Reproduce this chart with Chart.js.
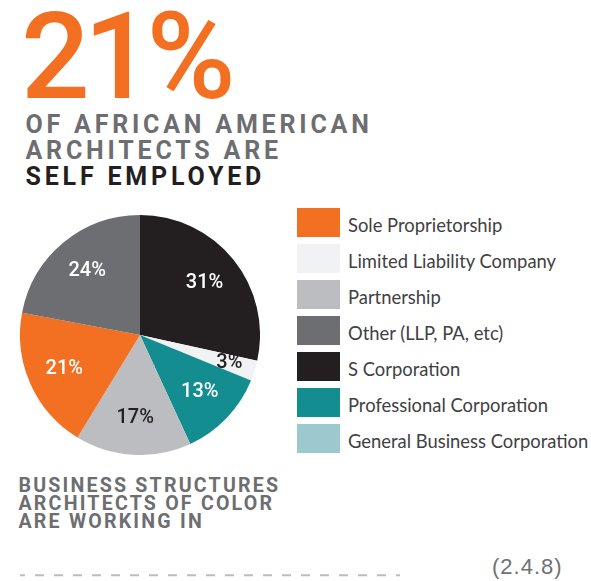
<!DOCTYPE html>
<html>
<head>
<meta charset="utf-8">
<script src="https://cdn.jsdelivr.net/npm/chart.js@4.4.1/dist/chart.umd.min.js"></script>
<style>
body { margin: 0; width: 591px; height: 581px; background: #fff; position: relative; overflow: hidden; }
#big { position: absolute; left: 21px; top: 6.6px; font: 500 121px/100px Roboto, sans-serif; letter-spacing: -6px; color: #F36F21; }
#sub { position: absolute; left: 25.5px; top: 111.8px; font: 700 25px/26px Roboto, sans-serif; letter-spacing: 3.8px; color: #6D6E71; }
#sub .dark { color: #231F20; }
#pieBox { position: absolute; left: 20px; top: 215px; width: 240px; height: 240px; }
#legend { position: absolute; left: 297px; top: 207.5px; margin: 0; padding: 0; list-style: none; }
#legend li { height: 29px; margin-bottom: 7px; display: flex; align-items: flex-start; }
#legend .box { width: 43px; height: 29px; flex: none; }
#legend .txt { margin-left: 8px; font: 400 18.4px/29px Lato, sans-serif; color: #414042; position: relative; top: 3px; white-space: nowrap; }
#caption { position: absolute; left: 18.5px; top: 477px; font: 700 19.6px/18px Roboto, sans-serif; letter-spacing: 2.2px; color: #6D6E71; }
#dash { position: absolute; left: 0; top: 570px; }
#ref { position: absolute; left: 492px; top: 556px; font: 400 22px/22px "Liberation Sans", Arial, sans-serif; letter-spacing: 1px; color: #707174; }
</style>
</head>
<body>
<div id="big">21%</div>
<div id="sub">
  <div>OF AFRICAN AMERICAN</div>
  <div>ARCHITECTS ARE</div>
  <div class="dark">SELF EMPLOYED</div>
</div>
<div id="pieBox"><canvas id="pie" width="240" height="240"></canvas></div>
<ul id="legend"></ul>
<div id="caption">BUSINESS STRUCTURES<br>ARCHITECTS OF COLOR<br>ARE WORKING IN</div>
<svg id="dash" width="420" height="12"><line x1="20" y1="5.3" x2="400" y2="5.3" stroke="#BCBDC0" stroke-width="2" stroke-dasharray="9 10" stroke-dashoffset="4"/></svg>
<div id="ref">(2.4.8)</div>
<script>
// slices in drawing order, clockwise from 12 o'clock
const categories = ["S Corporation", "Limited Liability Company", "Professional Corporation", "Partnership", "Sole Proprietorship", "Other (LLP, PA, etc)", "General Business Corporation"];
const shares = [31, 3, 13, 17, 21, 24, 0];
const sliceColors = ["#231F20", "#F1F2F3", "#138D8F", "#BCBDC0", "#F36F21", "#6D6E71", "#9CC9CE"];
const labelColors = ["#fff", "#231F20", "#fff", "#231F20", "#fff", "#fff", "#fff"];
// legend is listed in a different order than the slices
const legendOrder = ["Sole Proprietorship", "Limited Liability Company", "Partnership", "Other (LLP, PA, etc)", "S Corporation", "Professional Corporation", "General Business Corporation"];

const sliceLabels = {
    id: "sliceLabels",
    afterDatasetsDraw(chart) {
        const ctx = chart.ctx;
        const meta = chart.getDatasetMeta(0);
        ctx.save();
        ctx.font = "500 20px Roboto, sans-serif";
        ctx.textAlign = "center";
        ctx.textBaseline = "middle";
        meta.data.forEach((arc, i) => {
            if (!shares[i]) return;
            const p = arc.getProps(["x", "y", "startAngle", "endAngle", "outerRadius"], true);
            const mid = (p.startAngle + p.endAngle) / 2;
            const r = p.outerRadius * (shares[i] < 5 ? 0.78 : 0.69);
            ctx.fillStyle = labelColors[i];
            ctx.fillText(shares[i] + "%", p.x + Math.cos(mid) * r, p.y + Math.sin(mid) * r);
        });
        ctx.restore();
    }
};

const pieChart = new Chart(document.getElementById("pie").getContext("2d"), {
    type: "pie",
    data: {
        labels: categories,
        datasets: [{
            data: shares,
            backgroundColor: sliceColors,
            borderWidth: 0,
        }],
    },
    options: {
        responsive: false,
        animation: false,
        layout: { padding: 0 },
        plugins: {
            legend: { display: false },
            tooltip: { enabled: false },
        },
    },
    plugins: [sliceLabels],
});

const legendList = document.getElementById("legend");
legendOrder.forEach(name => {
    const i = categories.indexOf(name);
    const li = document.createElement("li");
    li.innerHTML = `<span class="box" style="background:${sliceColors[i]}"></span><span class="txt">${name}</span>`;
    legendList.appendChild(li);
});
</script>
</body>
</html>
